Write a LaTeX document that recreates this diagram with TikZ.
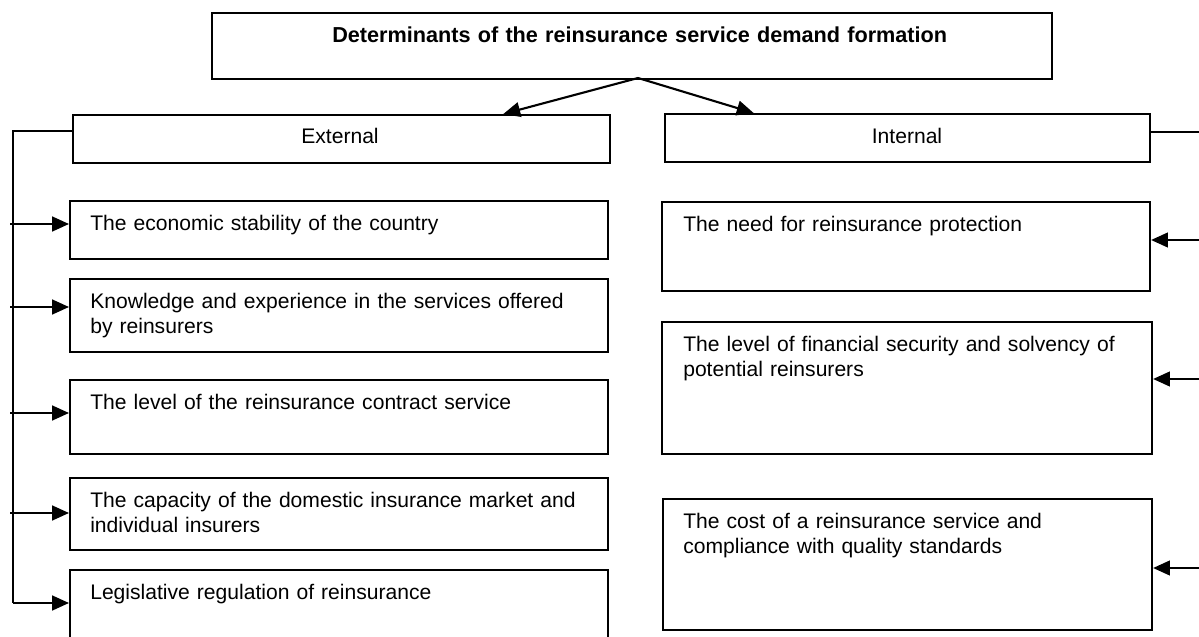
\documentclass[tikz,border=0pt]{standalone}
\usepackage{fontspec}
\setmainfont{Liberation Sans}
\usetikzlibrary{arrows.meta,calc}
\def\px{0.025cm}
\def\boxnode(#1)(#2,#3)(#4,#5){\node[box, minimum width={(#4-#2)*\px}, minimum height={(#5-#3)*\px}] (#1) at (#2,#3) {};}
\tikzset{
	box/.style={draw, line width=1.5pt, rectangle, inner sep=0pt, anchor=north west},
	txt/.style={anchor=base west, inner sep=0pt, align=left, text width=13.5cm, font=\fontsize{15}{17.8}\selectfont},
	arr/.style={line width=1.5pt, -{Triangle[length=12pt,width=10.5pt]}},
	bus/.style={line width=1.5pt}
}

\begin{document}
\begin{tikzpicture}[x=0.025cm, y=-0.025cm]
		%%%%% START %%%%%
		\useasboundingbox (0,0) rectangle (1199,637);
		
		\boxnode(top)(211,12)(1051,78)
		\node[txt, text width=19cm, font=\fontsize{15.4}{18}\selectfont\bfseries] (toptxt) at (332,43) {Determinants of the reinsurance service demand formation};
		
		\boxnode(ext)(72,114)(609,162)
		\node[txt, text width=, align=center, anchor=base] (exttxt) at (340,144) {External};
		\boxnode(int)(664,113)(1149,161)
		\node[txt, text width=, align=center, anchor=base] (inttxt) at (907,143) {Internal};
		
		\coordinate (apex) at (638,78);
		\draw[arr] (apex) -- ($(ext.north west)!0.80!(ext.north east)$);
		\draw[arr] (apex) -- ($(int.north west)!0.184!(int.north east)$);
		
		% external factors
		\boxnode(e1)(69,200)(607,258)
		\boxnode(e2)(69,278)(607,351)
		\boxnode(e3)(69,379)(607,453)
		\boxnode(e4)(69,477)(607,549)
		\boxnode(e5)(69,569)(607,680)
		
		\node[txt] (e1t) at ([shift={(21,30)}]e1.north west) {The economic stability of the country};
		\node[txt] (e2t) at ([shift={(21,30)}]e2.north west) {Knowledge and experience in the services offered\\by reinsurers};
		\node[txt] (e3t) at ([shift={(21,30)}]e3.north west) {The level of the reinsurance contract service};
		\node[txt] (e4t) at ([shift={(21,30)}]e4.north west) {The capacity of the domestic insurance market and\\individual insurers};
		\node[txt] (e5t) at ([shift={(21,30)}]e5.north west) {Legislative regulation of reinsurance};
		
		% internal factors
		\boxnode(i1)(661,201)(1149,290)
		\boxnode(i2)(661,321)(1151,453)
		\boxnode(i3)(662,498)(1151,629)
		
		\node[txt] (i1t) at ([shift={(22,30)}]i1.north west) {The need for reinsurance protection};
		\node[txt] (i2t) at ([shift={(22,30)}]i2.north west) {The level of financial security and solvency of\\potential reinsurers};
		\node[txt] (i3t) at ([shift={(21,30)}]i3.north west) {The cost of a reinsurance service and\\compliance with quality standards};
		
		% left bus
		\coordinate (lb) at (13,131);
		\coordinate (l5) at (13,603);
		\draw[bus] (ext.north west |- lb) -- (lb) -- (l5);
		\draw[arr] (l5) -- (l5 -| e5.west);
		\coordinate (l1) at (10,224);
		\coordinate (l2) at (10,307);
		\coordinate (l3) at (10,413);
		\coordinate (l4) at (10,513);
		\draw[arr] (l1) -- (l1 -| e1.west);
		\draw[arr] (l2) -- (l2 -| e2.west);
		\draw[arr] (l3) -- (l3 -| e3.west);
		\draw[arr] (l4) -- (l4 -| e4.west);
		
		% right bus
		\coordinate (rb) at (1201,132);
		\coordinate (r1) at (1201,240);
		\coordinate (r2) at (1201,379);
		\coordinate (r3) at (1201,568);
		\draw[bus] (int.north east |- rb) -- (rb) -- (r3);
		\draw[arr] (r1) -- (r1 -| i1.east);
		\draw[arr] (r2) -- (r2 -| i2.east);
		\draw[arr] (r3) -- (r3 -| i3.east);
		
		%%%%% END %%%%%
\end{tikzpicture}
\end{document}
